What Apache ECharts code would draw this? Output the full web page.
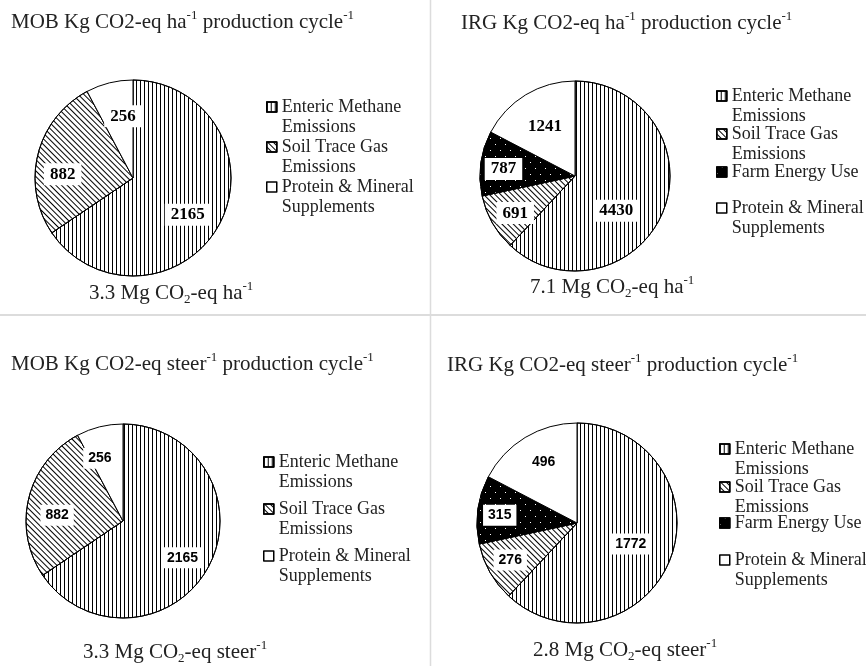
<!DOCTYPE html>
<html><head><meta charset="utf-8">
<script src="https://cdn.jsdelivr.net/npm/echarts@6/dist/echarts.min.js"></script>
<style>html,body{margin:0;padding:0;background:#fff}#c{width:866px;height:666px}</style>
</head><body><div id="c"></div>
<script>
// ---- data ----
const mobCategories = ['Enteric Methane Emissions', 'Soil Trace Gas Emissions', 'Protein & Mineral Supplements'];
const irgCategories = ['Enteric Methane Emissions', 'Soil Trace Gas Emissions', 'Farm Energy Use', 'Protein & Mineral Supplements'];
const mobHaValues = [2165, 882, 256];
const irgHaValues = [4430, 691, 787, 1241];
const mobSteerValues = [2165, 882, 256];
const irgSteerValues = [1772, 276, 315, 496];
const panelTitles = [
  'MOB Kg CO2-eq ha^{-1} production cycle^{-1}',
  'IRG Kg CO2-eq ha^{-1} production cycle^{-1}',
  'MOB Kg CO2-eq steer^{-1} production cycle^{-1}',
  'IRG Kg CO2-eq steer^{-1} production cycle^{-1}'
];
const panelTotals = [
  '3.3 Mg CO_{2}-eq ha^{-1}',
  '7.1 Mg CO_{2}-eq ha^{-1}',
  '3.3 Mg CO_{2}-eq steer^{-1}',
  '2.8 Mg CO_{2}-eq steer^{-1}'
];

// ---- styles ----
const sliceStyle = {
  'Enteric Methane Emissions': {color: '#fff', decal: {symbol: 'rect', symbolSize: 1, color: '#000', dashArrayX: [1, 3], dashArrayY: [10, 0]}},
  'Soil Trace Gas Emissions': {color: '#fff', decal: {symbol: 'rect', symbolSize: 1, color: '#000', dashArrayX: [1, 3], dashArrayY: [10, 0], rotation: -Math.PI / 4}},
  'Farm Energy Use': {color: '#000', decal: {symbol: 'rect', symbolSize: 1, color: '#fff', dashArrayX: [[1, 9], [0, 5, 1, 4]], dashArrayY: [1, 5]}},
  'Protein & Mineral Supplements': {color: '#fff'}
};
const serifLabel = {fontFamily: 'Liberation Serif', fontWeight: 'bold', fontSize: 17, color: '#000', backgroundColor: '#fff', padding: [3, 6, 2, 6]};
const sansLabel = {fontFamily: 'Liberation Sans', fontWeight: 'bold', fontSize: 14, color: '#000', backgroundColor: '#fff', padding: [4, 5, 3, 5]};

const panels = [
  {cats: mobCategories, vals: mobHaValues, title: panelTitles[0], total: panelTotals[0], center: [133, 178], r: 98,
   titlePos: [11, 9], totalPos: [89, 280], legendX: 266, legendY: [106, 146, 186],
   labelFrac: [0.66, 0.72, 0.65], labelOffset: [[-5, 5], [1, 14], [6, 3]], label: serifLabel},
  {cats: irgCategories, vals: irgHaValues, title: panelTitles[1], total: panelTotals[1], center: [575, 176], r: 95,
   titlePos: [461, 10], totalPos: [530, 274], legendX: 716, legendY: [95, 133, 171, 207],
   labelFrac: [0.56, 0.74, 0.76, 0.62], labelOffset: [[-11, 14], [4, 1], [3, 3], [2, 4]], label: serifLabel},
  {cats: mobCategories, vals: mobSteerValues, title: panelTitles[2], total: panelTotals[2], center: [123, 521], r: 97,
   titlePos: [11, 351], totalPos: [83, 639], legendX: 263, legendY: [461, 508, 555],
   labelFrac: [0.71, 0.68, 0.70], labelOffset: [[-4, 3], [1, 11], [-6, 6]], label: sansLabel},
  {cats: irgCategories, vals: irgSteerValues, title: panelTitles[3], total: panelTotals[3], center: [577, 523], r: 100,
   titlePos: [447, 352], totalPos: [533, 637], legendX: 719, legendY: [448, 486, 522, 559],
   labelFrac: [0.57, 0.76, 0.78, 0.71], labelOffset: [[-2, -1], [2, -2], [3, 3], [5, 2]], label: sansLabel}
];

function richify(s) {
  let out = '';
  s.split(/(\^\{[^}]*\}|_\{[^}]*\})/).forEach(p => {
    if (!p) return;
    if (p.startsWith('^{')) out += '{sup|' + p.slice(2, -1) + '}';
    else if (p.startsWith('_{')) out += '{sub|' + p.slice(2, -1) + '}';
    else out += '{n|' + p + '}';
  });
  return out;
}
const richStyles = {
  n: {fontFamily: 'Liberation Serif', fontWeight: 'normal', fontSize: 21, lineHeight: 26, color: '#222'},
  sup: {fontFamily: 'Liberation Serif', fontWeight: 'normal', fontSize: 13, lineHeight: 14, color: '#222', verticalAlign: 'top'},
  sub: {fontFamily: 'Liberation Serif', fontWeight: 'normal', fontSize: 13, lineHeight: 14, color: '#222', verticalAlign: 'bottom'}
};
function wrapName(name) {
  if (name.length <= 16) return name;
  const i = name.lastIndexOf(' ');
  return name.slice(0, i) + '\n' + name.slice(i + 1);
}
function isTwoLine(name) { return wrapName(name).indexOf('\n') >= 0; }
function legendText(name) {
  const w = wrapName(name);
  return isTwoLine(name) ? '\n' + w : w;
}

const titles = [];
const series = [];
const legends = [];
panels.forEach(p => {
  titles.push({text: richify(p.title), left: p.titlePos[0], top: p.titlePos[1], padding: 0, textStyle: {fontWeight: 'normal', rich: richStyles}});
  titles.push({text: richify(p.total), left: p.totalPos[0], top: p.totalPos[1], padding: 0, textStyle: {fontWeight: 'normal', rich: richStyles}});
  series.push({
    type: 'pie', center: p.center, radius: [0, p.r], startAngle: 90, clockwise: true, silent: true, animation: false,
    label: {show: false}, labelLine: {show: false},
    itemStyle: {borderColor: '#000', borderWidth: 1},
    data: p.cats.map((c, i) => ({name: c, value: p.vals[i], itemStyle: sliceStyle[c]}))
  });
  p.cats.forEach((c, k) => {
    legends.push({
      left: p.legendX, top: p.legendY[k] - (isTwoLine(c) ? 29 : 9), padding: 0, orient: 'vertical', icon: 'rect',
      itemWidth: 10, itemHeight: 10, itemGap: 0, selectedMode: false,
      itemStyle: {borderColor: '#000', borderWidth: 1.5},
      textStyle: {fontFamily: 'Liberation Serif', fontSize: 18, lineHeight: 20, color: '#222'},
      formatter: legendText,
      data: [{name: c}]
    });
  });
});
panels.forEach(p => {
  p.cats.forEach((c, k) => {
    const f = p.labelFrac[k];
    series.push({
      type: 'pie', center: p.center, radius: [(2 * f - 1) * p.r, p.r], startAngle: 90, clockwise: true, silent: true, animation: false,
      itemStyle: {color: 'rgba(0,0,0,0)', borderWidth: 0},
      labelLine: {show: false},
      data: p.cats.map((c2, i) => ({
        name: c2, value: p.vals[i],
        label: i === k ? Object.assign({show: true, position: 'inside', formatter: '{c}', offset: p.labelOffset[k]}, p.label) : {show: false}
      }))
    });
  });
});

const chart = echarts.init(document.getElementById('c'), null, {renderer: 'canvas'});
chart.setOption({
  backgroundColor: '#fff',
  animation: false,
  title: titles,
  legend: legends,
  series: series,
  graphic: [
    {type: 'line', shape: {x1: 430.5, y1: 0, x2: 430.5, y2: 666}, style: {stroke: '#dcdcdc', lineWidth: 1.5}},
    {type: 'line', shape: {x1: 0, y1: 315, x2: 866, y2: 315}, style: {stroke: '#dcdcdc', lineWidth: 2}}
  ]
});
</script></body></html>
